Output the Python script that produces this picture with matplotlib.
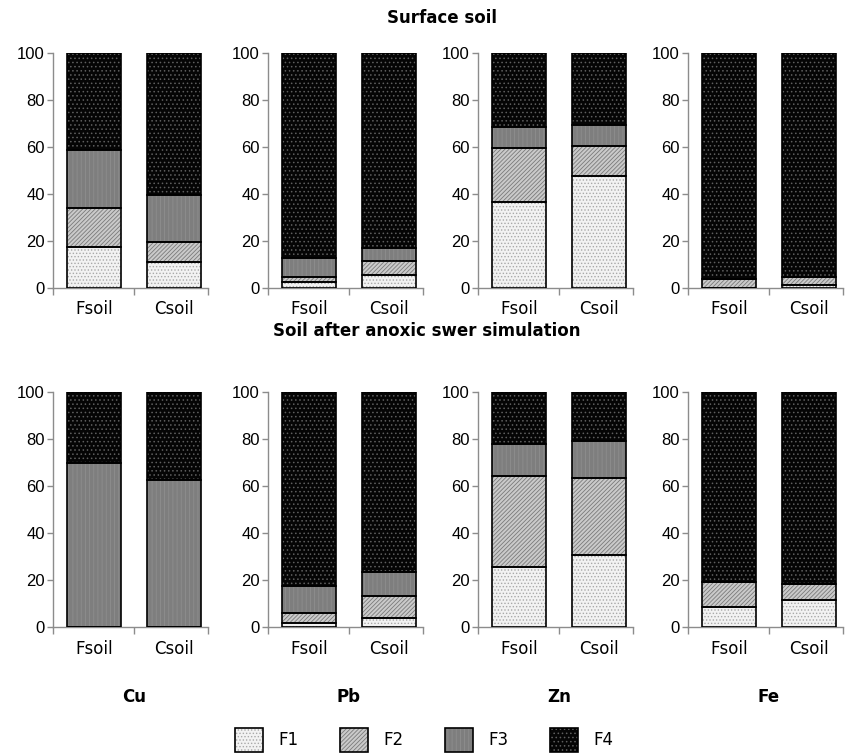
import matplotlib
matplotlib.use("Agg")
import matplotlib.pyplot as plt
from matplotlib.legend_handler import HandlerTuple

metals = ["Cu", "Pb", "Zn", "Fe"]
soils = ["Fsoil", "Csoil"]
fractions = ["F1", "F2", "F3", "F4"]
row_titles = ["Surface soil", "Soil after anoxic swer simulation"]
y_ticks = [0, 20, 40, 60, 80, 100]

# Surface soil, per metal: [Fsoil, Csoil] (%)
surface_F1 = [[17.3, 10.9], [2.4, 5.7], [36.4, 47.8], [0.0, 1.4]]
surface_F2 = [[16.9, 8.6], [2.3, 5.9], [23.3, 12.6], [3.8, 3.3]]
surface_F3 = [[24.5, 20.1], [8.0, 5.4], [8.9, 8.9], [0.0, 0.0]]
surface_F4 = [[41.3, 60.4], [87.3, 83.0], [31.4, 30.7], [96.2, 95.3]]

# Soil after anoxic sewer simulation, per metal: [Fsoil, Csoil] (%)
anoxic_F1 = [[0.0, 0.0], [1.7, 3.8], [25.7, 30.7], [8.7, 11.6]]
anoxic_F2 = [[0.0, 0.0], [4.2, 9.6], [38.7, 32.9], [10.3, 6.7]]
anoxic_F3 = [[70.0, 62.4], [11.7, 9.8], [13.4, 15.6], [0.0, 0.0]]
anoxic_F4 = [[30.0, 37.6], [82.4, 76.8], [22.2, 20.8], [81.0, 81.7]]

rows = [
    [surface_F1, surface_F2, surface_F3, surface_F4],
    [anoxic_F1, anoxic_F2, anoxic_F3, anoxic_F4],
]

face_colors = ["#f2f2f2", "#cacaca", "#7e7e7e", "#050505"]
hatch_colors = ["#a8a8a8", "#7a7a7a", "#8e8e8e", "#5e5e5e"]
hatches = [".....", "////////", "||||", "...."]

plt.rcParams["hatch.linewidth"] = 0.6

W, H = 848, 753
fig = plt.figure(figsize=(W / 100, H / 100), dpi=100)

lefts = [53, 268, 478, 688]
ax_w = 155
row_top = [52.7, 392]
row_bot = [288, 627]

spine_col = "#8c8c8c"
bar_w = 0.675
x_pos = [0, 1]

legend_handles = None
bottom_axes = []
for r in range(2):
    for m in range(4):
        ax = fig.add_axes([lefts[m] / W, 1 - row_bot[r] / H, ax_w / W,
                           (row_bot[r] - row_top[r]) / H])
        bottoms = [0.0, 0.0]
        handles = []
        for f in range(4):
            vals = rows[r][f][m]
            b1 = ax.bar(x_pos, vals, bar_w, bottom=bottoms, color=face_colors[f],
                        linewidth=0, zorder=2)
            b2 = ax.bar(x_pos, vals, bar_w, bottom=bottoms, color="none",
                        edgecolor=hatch_colors[f], hatch=hatches[f], linewidth=0, zorder=3)
            b3 = ax.bar(x_pos, vals, bar_w, bottom=bottoms, color="none",
                        edgecolor="#000000", linewidth=1.2, zorder=4)
            handles.append((b1.patches[0], b2.patches[0], b3.patches[0]))
            bottoms = [bottoms[i] + vals[i] for i in range(2)]
        if legend_handles is None:
            legend_handles = handles
        ax.set_xlim(-0.5125, 1.425)
        ax.set_ylim(0, 100)
        ax.set_yticks(y_ticks)
        ax.set_yticklabels([str(t) for t in y_ticks], family="Liberation Sans", fontsize=12)
        ax.tick_params(axis="y", direction="out", length=4, width=1, color=spine_col, pad=2)
        ax.set_xticks(x_pos)
        ax.set_xticklabels(soils, family="DejaVu Sans", fontsize=12)
        ax.tick_params(axis="x", which="major", length=0, pad=9)
        ax.set_xticks([-0.5125, 0.5, 1.425], minor=True)
        ax.tick_params(axis="x", which="minor", direction="out", length=5, width=1, color=spine_col)
        for s in ["top", "right"]:
            ax.spines[s].set_visible(False)
        for s in ["left", "bottom"]:
            ax.spines[s].set_color(spine_col)
            ax.spines[s].set_linewidth(1)
        ax.patch.set_visible(False)
        if r == 1:
            bottom_axes.append(ax)

fig.text(442 / W, 1 - 18 / H, row_titles[0], ha="center", va="center",
         fontsize=12, fontweight="bold", family="DejaVu Sans")
fig.text(427 / W, 1 - 331 / H, row_titles[1], ha="center", va="center",
         fontsize=12, fontweight="bold", family="DejaVu Sans")

for ax, metal in zip(bottom_axes, metals):
    ax.text(0.5, -0.298, metal, transform=ax.get_xaxis_transform(), ha="center",
            va="center", fontsize=12, fontweight="bold", family="DejaVu Sans")

fig.legend(legend_handles, fractions, handler_map={tuple: HandlerTuple(ndivide=1, pad=0)},
           loc="center", bbox_to_anchor=(424 / W, 1 - 740 / H), ncol=4, frameon=False,
           prop={"family": "DejaVu Sans", "size": 12}, handlelength=1.7, handleheight=1.9,
           handletextpad=0.9, columnspacing=2.5, borderaxespad=0)

fig.savefig("out.png", dpi=100)
